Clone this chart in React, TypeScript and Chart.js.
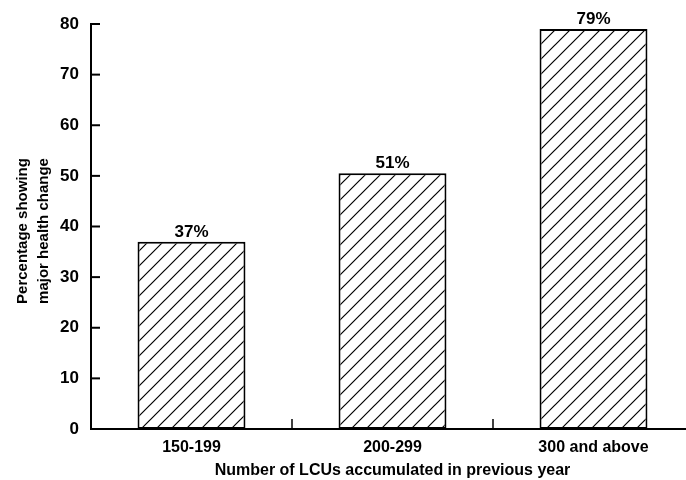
import React, { useEffect, useRef } from "react";
import { Chart, registerables } from "chart.js";

Chart.register(...registerables);

const categories = ["150-199", "200-299", "300 and above"];
const values = [37, 50.5, 79];
const valueLabels = ["37%", "51%", "79%"];
const yTitleLines = ["Percentage showing", "major health change"];
const xTitle = "Number of LCUs accumulated in previous year";

const FONT = "'Liberation Sans', Arial, Helvetica, sans-serif";

function makeHatch(): CanvasPattern | string {
  const c = document.createElement("canvas");
  const s = 15;
  c.width = s;
  c.height = s;
  const g = c.getContext("2d");
  if (!g) return "#fff";
  g.fillStyle = "#fff";
  g.fillRect(0, 0, s, s);
  g.strokeStyle = "#000";
  g.lineWidth = 1.2;
  g.beginPath();
  g.moveTo(-2, s + 2);
  g.lineTo(s + 2, -2);
  g.moveTo(-2, 2);
  g.lineTo(2, -2);
  g.moveTo(s - 2, s + 2);
  g.lineTo(s + 2, s - 2);
  g.stroke();
  const p = g.createPattern(c, "repeat");
  return p || "#fff";
}

const decorPlugin = {
  id: "decor",
  afterDraw(chart: any) {
    const ctx = chart.ctx as CanvasRenderingContext2D;
    const area = chart.chartArea;
    const yScale = chart.scales.y;
    const xScale = chart.scales.x;
    ctx.save();
    ctx.strokeStyle = "#000";
    // inward y ticks
    ctx.lineWidth = 2;
    yScale.ticks.forEach((t: any) => {
      const y = yScale.getPixelForValue(t.value);
      ctx.beginPath();
      ctx.moveTo(area.left, y);
      ctx.lineTo(area.left + 9, y);
      ctx.stroke();
    });
    // upward x ticks at category boundaries
    ctx.lineWidth = 1.5;
    for (let i = 1; i < categories.length; i++) {
      const x = (xScale.getPixelForTick(i - 1) + xScale.getPixelForTick(i)) / 2;
      ctx.beginPath();
      ctx.moveTo(x, area.bottom);
      ctx.lineTo(x, area.bottom - 10);
      ctx.stroke();
    }
    // value labels
    ctx.fillStyle = "#000";
    ctx.font = `bold 17px ${FONT}`;
    ctx.textAlign = "center";
    ctx.textBaseline = "alphabetic";
    const meta = chart.getDatasetMeta(0);
    meta.data.forEach((el: any, i: number) => {
      ctx.fillText(valueLabels[i], el.x, el.y - 5);
    });
    // x title
    ctx.font = `bold 16px ${FONT}`;
    ctx.fillText(xTitle, (area.left + area.right) / 2, 475);
    // y title
    ctx.font = `bold 15px ${FONT}`;
    ctx.translate(0, 231);
    ctx.rotate(-Math.PI / 2);
    ctx.fillText(yTitleLines[0], 0, 26.5);
    ctx.fillText(yTitleLines[1], 0, 48);
    ctx.restore();
  },
};

export default function App() {
  const ref = useRef<HTMLCanvasElement | null>(null);
  useEffect(() => {
    const canvas = ref.current;
    if (!canvas) return;
    const chart = new Chart(canvas, {
      type: "bar",
      data: {
        labels: categories,
        datasets: [
          {
            data: values,
            backgroundColor: makeHatch() as any,
            borderColor: "#000",
            borderWidth: 2,
            borderSkipped: false,
            barPercentage: 0.537,
            categoryPercentage: 1,
          },
        ],
      },
      options: {
        responsive: false,
        animation: false,
        devicePixelRatio: 1,
        layout: { padding: { top: 24, right: 6, left: 0, bottom: 0 } },
        plugins: { legend: { display: false }, tooltip: { enabled: false } },
        scales: {
          x: {
            grid: { display: false, drawTicks: false },
            border: { display: true, color: "#000", width: 2 },
            ticks: {
              color: "#000",
              font: { family: FONT, size: 16, weight: "bold" },
              padding: 9,
              maxRotation: 0,
            },
            afterFit: (s: any) => {
              s.height = 51;
            },
          },
          y: {
            min: 0,
            max: 80,
            grid: { display: false, drawTicks: false },
            border: { display: true, color: "#000", width: 2 },
            ticks: {
              stepSize: 10,
              color: "#000",
              font: { family: FONT, size: 17, weight: "bold" },
              padding: 12,
            },
            afterFit: (s: any) => {
              s.width = 91;
            },
          },
        },
      },
      plugins: [decorPlugin],
    });
    return () => chart.destroy();
  }, []);
  return (
    <div
      style={{
        position: "fixed",
        left: 0,
        top: 0,
        width: 686,
        height: 480,
        overflow: "hidden",
        background: "#fff",
      }}
    >
      <canvas ref={ref} width={700} height={480} style={{ display: "block" }} />
    </div>
  );
}
